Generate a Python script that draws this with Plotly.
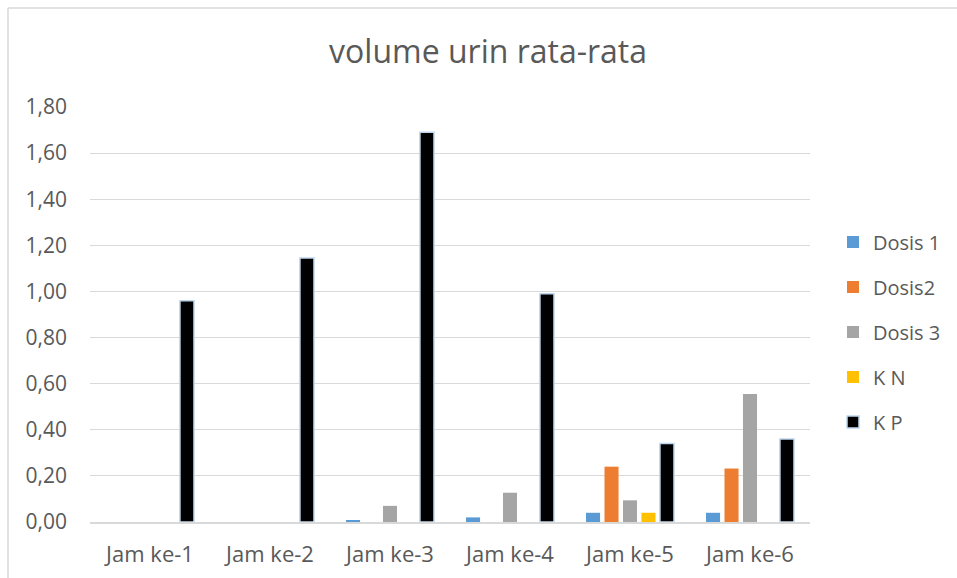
import plotly.graph_objects as go

categories = ["Jam ke-1", "Jam ke-2", "Jam ke-3", "Jam ke-4", "Jam ke-5", "Jam ke-6"]
dosis1 = [0, 0, 0.006, 0.02, 0.04, 0.04]
dosis2 = [0, 0, 0, 0, 0.24, 0.232]
dosis3 = [0, 0, 0.07, 0.127, 0.094, 0.555]
kn = [0, 0, 0, 0, 0.04, 0]
kp = [0.96, 1.145, 1.69, 0.99, 0.34, 0.36]
series_names = ["Dosis 1", "Dosis2", "Dosis 3", "K N", "K P"]
y_ticks = [0, 0.2, 0.4, 0.6, 0.8, 1.0, 1.2, 1.4, 1.6, 1.8]

colors = ["#5B9BD5", "#ED7D31", "#A5A5A5", "#FFC000", "#000000"]
series = [dosis1, dosis2, dosis3, kn, kp]

FONT = "Open Sans"
TXT = "#595959"

fig = go.Figure()
for name, vals, col in zip(series_names, series, colors):
    is_kp = name == "K P"
    fig.add_trace(go.Bar(
        x=categories, y=vals, name=name, legendgroup=name,
        marker=dict(color=col,
                    line=dict(color="#BDD7EE" if is_kp else "rgba(0,0,0,0)",
                              width=1.5 if is_kp else 0)),
    ))

ml, mr, mt, mb = 90, 147, 107, 56
W, H = 957, 578
pw = W - ml - mr
ph = H - mt - mb

fig.update_layout(
    width=W, height=H,
    margin=dict(l=ml, r=mr, t=mt, b=mb, autoexpand=False),
    paper_bgcolor="white", plot_bgcolor="white",
    separators=",.",
    font=dict(family=FONT, color=TXT, size=20),
    title=dict(text="volume urin rata-rata", x=0.51, xanchor="center",
               y=1 - 52 / H, yanchor="middle",
               font=dict(family=FONT, size=32, color=TXT)),
    barmode="group", bargap=0.23, bargroupgap=0.24,
    legend=dict(x=(833 - ml) / pw, xanchor="left", y=(522 - 332) / ph, yanchor="middle",
                font=dict(family=FONT, size=20, color=TXT),
                tracegroupgap=16, itemclick=False, bgcolor="rgba(0,0,0,0)"),
    xaxis=dict(showgrid=False, showline=True, linecolor="#D9D9D9", linewidth=1.5,
               ticks="", tickfont=dict(family=FONT, size=22, color=TXT),
               ticklabelstandoff=12),
    yaxis=dict(range=[0, 1.8], tickvals=y_ticks, tickformat=".2f",
               showgrid=True, gridcolor="#D9D9D9", gridwidth=1.3,
               zeroline=False, showline=False, ticks="",
               tickfont=dict(family=FONT, size=21, color=TXT),
               ticklabelstandoff=22),
    shapes=[
        dict(type="line", xref="paper", yref="paper",
             x0=(8 - ml) / pw, x1=(8 - ml) / pw, y0=(H - mb - 8) / ph, y1=-(mb + 5) / ph,
             line=dict(color="#D9D9D9", width=1.5)),
        dict(type="line", xref="paper", yref="paper",
             x0=(8 - ml) / pw, x1=(W + 5 - ml) / pw, y0=(H - mb - 8) / ph, y1=(H - mb - 8) / ph,
             line=dict(color="#D9D9D9", width=1.5)),
    ],
)

fig.write_html("out.html", config={"displayModeBar": False},
               post_script="document.body.style.margin='0';document.body.style.overflow='hidden';")
